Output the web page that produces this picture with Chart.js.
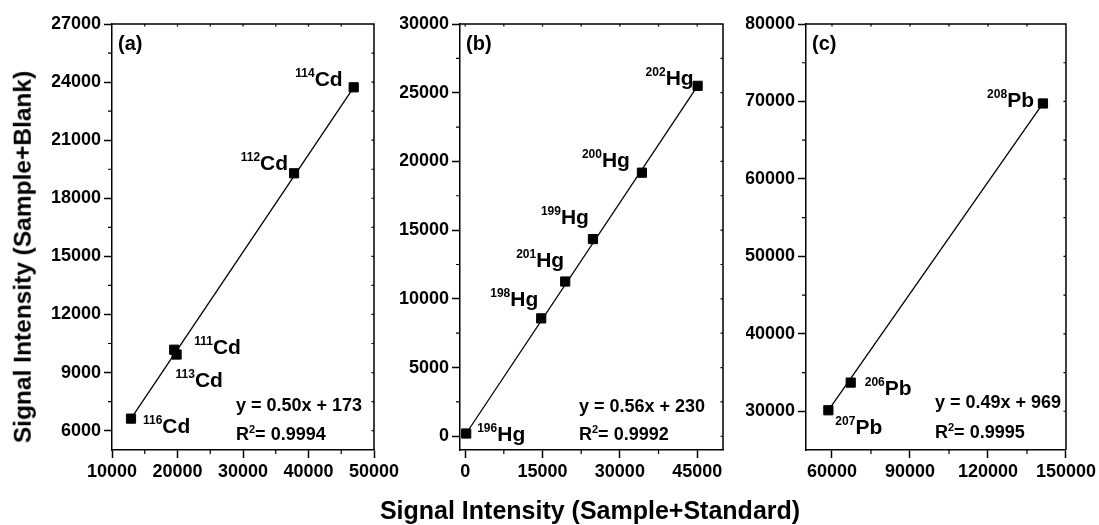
<!DOCTYPE html>
<html>
<head>
<meta charset="utf-8">
<script src="https://cdn.jsdelivr.net/npm/chart.js@4.4.1/dist/chart.umd.min.js"></script>
<style>
  html, body { margin: 0; padding: 0; background: #fff; width: 1099px; height: 525px; overflow: hidden; }
  canvas { position: absolute; left: 0; top: 0; }
  .title { position: absolute; font-family: "Liberation Sans", Arial, sans-serif; font-weight: bold; color: #000;
           white-space: nowrap; line-height: 1; transform-origin: center center; }
  #xTitle { left: 590px; top: 510px; font-size: 25px; transform: translate(-50%, -50%); }
  #yTitle { left: 23px; top: 257px; font-size: 24.5px; transform: translate(-50%, -50%) rotate(-90deg); }
</style>
</head>
<body>
<canvas id="panelA" width="1099" height="525"></canvas>
<canvas id="panelB" width="1099" height="525"></canvas>
<canvas id="panelC" width="1099" height="525"></canvas>
<div class="title" id="xTitle">Signal Intensity (Sample+Standard)</div>
<div class="title" id="yTitle">Signal Intensity (Sample+Blank)</div>
<script>
// ---- Cadmium isotopes ----
const cdMass  = ['116', '111', '113', '112', '114'];
const cdStd   = [12900, 19500, 19860, 37800, 46900];
const cdBlank = [6620, 10180, 9930, 19290, 23730];
const cdXTicks = [10000, 20000, 30000, 40000, 50000];
const cdYTicks = [6000, 9000, 12000, 15000, 18000, 21000, 24000, 27000];

// ---- Mercury isotopes ----
const hgMass  = ['196', '198', '201', '199', '200', '202'];
const hgStd   = [200, 14750, 19400, 24780, 34280, 45080];
const hgBlank = [200, 8580, 11260, 14350, 19180, 25500];
const hgXTicks = [0, 15000, 30000, 45000];
const hgYTicks = [0, 5000, 10000, 15000, 20000, 25000, 30000];

// ---- Lead isotopes ----
const pbMass  = ['207', '206', '208'];
const pbStd   = [58600, 67200, 141150];
const pbBlank = [30130, 33700, 69740];
const pbXTicks = [60000, 90000, 120000, 150000];
const pbYTicks = [30000, 40000, 50000, 60000, 70000, 80000];

// ---- Regression results ----
const fitEquations = ['y = 0.50x + 173', 'y = 0.56x + 230', 'y = 0.49x + 969'];
const fitR2 = ['0.9994', '0.9992', '0.9995'];
const panelLetters = ['(a)', '(b)', '(c)'];

const FONT = '"Liberation Sans", Arial, sans-serif';
const W = 1099, H = 525, PLOT_TOP = 24, PLOT_BOTTOM = 450, Y_AXIS_W = 60, X_AXIS_H = 45;

// Isotope label placement: [dx, dy, anchor] relative to the marker centre
const cdLabelPos = [[12, 14, 'left'], [20, 4, 'left'], [-1, 32, 'left'], [-6, -3, 'right'], [-11, -1, 'right']];
const hgLabelPos = [[11, 7, 'left'], [-3, -12, 'right'], [-1, -15, 'right'], [-4, -15, 'right'], [-12, -6, 'right'], [-4, -1, 'right']];
const pbLabelPos = [[7, 24, 'left'], [14, 12, 'left'], [-9, 4, 'right']];

function minorTicks(major, min, max) {
  const step = major[1] - major[0];
  const out = [];
  const first = major[0] - step / 2;
  if (first > min) out.push(first);
  major.forEach(v => { const m = v + step / 2; if (m < max) out.push(m); });
  return out;
}

// Frame, minor ticks, isotope labels, fit text and panel letter
const decorations = {
  id: 'decorations',
  afterDatasetsDraw(chart, args, o) {
    const ctx = chart.ctx, a = chart.chartArea, xs = chart.scales.x, ys = chart.scales.y;
    ctx.save();
    ctx.strokeStyle = '#000';
    ctx.lineWidth = 1.5;
    // top and right frame
    ctx.beginPath();
    ctx.moveTo(a.left, a.top); ctx.lineTo(a.right, a.top); ctx.lineTo(a.right, a.bottom);
    ctx.stroke();
    ctx.lineWidth = 1.2;
    const xMinor = minorTicks(o.xTicks, xs.min, xs.max);
    const yMinor = minorTicks(o.yTicks, ys.min, ys.max);
    ctx.beginPath();
    xMinor.forEach(v => { const p = xs.getPixelForValue(v); ctx.moveTo(p, a.bottom); ctx.lineTo(p, a.bottom + 4); });
    yMinor.forEach(v => { const p = ys.getPixelForValue(v); ctx.moveTo(a.left, p); ctx.lineTo(a.left - 4, p); });
    o.xTicks.concat(xMinor).forEach(v => { const p = xs.getPixelForValue(v); if (p > a.left + 1 && p < a.right - 1) { ctx.moveTo(p, a.top); ctx.lineTo(p, a.top + 2.5); } });
    o.yTicks.concat(yMinor).forEach(v => { const p = ys.getPixelForValue(v); if (p > a.top + 1 && p < a.bottom - 1) { ctx.moveTo(a.right, p); ctx.lineTo(a.right - 2.5, p); } });
    ctx.stroke();

    ctx.fillStyle = '#000';
    ctx.textBaseline = 'alphabetic';
    ctx.textAlign = 'left';
    // isotope labels
    const supFont = 'bold 12px ' + FONT, elFont = 'bold 21px ' + FONT;
    o.mass.forEach((m, i) => {
      const px = xs.getPixelForValue(o.xs[i]), py = ys.getPixelForValue(o.ys[i]);
      const [dx, dy, anchor] = o.labelPos[i];
      ctx.font = supFont; const sw = ctx.measureText(m).width;
      ctx.font = elFont; const ew = ctx.measureText(o.element).width;
      const x0 = anchor === 'left' ? px + dx : px + dx - sw - ew;
      const base = py + dy;
      ctx.font = supFont; ctx.fillText(m, x0, base - 9);
      ctx.font = elFont; ctx.fillText(o.element, x0 + sw, base);
    });
    // fit equation and R^2
    const eqX = a.left + o.eqDx;
    ctx.font = 'bold 18px ' + FONT;
    ctx.fillText(o.eq, eqX, a.bottom + o.eqDy[0]);
    ctx.fillText('R', eqX, a.bottom + o.eqDy[1]);
    const rw = ctx.measureText('R').width;
    ctx.font = 'bold 11px ' + FONT;
    ctx.fillText('2', eqX + rw, a.bottom + o.eqDy[1] - 7);
    const tw = ctx.measureText('2').width;
    ctx.font = 'bold 18px ' + FONT;
    ctx.fillText('= ' + o.r2, eqX + rw + tw, a.bottom + o.eqDy[1]);
    // panel letter
    ctx.font = 'bold 20px ' + FONT;
    ctx.fillText(o.letter, a.left + 6, 50);
    ctx.restore();
  }
};

function axis(min, max, ticks, isX) {
  return {
    type: 'linear',
    position: isX ? 'bottom' : 'left',
    min: min, max: max,
    afterBuildTicks: s => { s.ticks = ticks.map(v => ({ value: v })); },
    afterFit: s => { if (isX) s.height = X_AXIS_H; else s.width = Y_AXIS_W; },
    ticks: { color: '#000', padding: 3, font: { family: FONT, size: 18, weight: 'bold' }, callback: v => String(v) },
    grid: { drawOnChartArea: false, drawTicks: true, tickLength: 8, tickWidth: 1.5, tickColor: '#000' },
    border: { display: true, color: '#000', width: 1.5 }
  };
}

function makePanel(id, p) {
  const pts = p.xs.map((x, i) => ({ x: x, y: p.ys[i] }));
  let lo = 0, hi = 0;
  p.xs.forEach((x, i) => { if (x < p.xs[lo]) lo = i; if (x > p.xs[hi]) hi = i; });
  new Chart(document.getElementById(id), {
    type: 'scatter',
    data: {
      datasets: [
        { data: pts, pointStyle: 'rect', pointRadius: 6.5, backgroundColor: '#000', borderColor: '#000', borderWidth: 1, showLine: false },
        { data: [pts[lo], pts[hi]], showLine: true, borderColor: '#000', borderWidth: 1.3, pointRadius: 0, fill: false }
      ]
    },
    options: {
      responsive: false,
      animation: false,
      events: [],
      layout: { padding: { left: p.left - Y_AXIS_W, right: W - p.right, top: PLOT_TOP, bottom: H - PLOT_BOTTOM - X_AXIS_H } },
      plugins: {
        legend: { display: false },
        tooltip: { enabled: false },
        decorations: {
          xTicks: p.xTicks, yTicks: p.yTicks, mass: p.mass, element: p.element, xs: p.xs, ys: p.ys,
          labelPos: p.labelPos, eq: p.eq, r2: p.r2, eqDx: p.eqDx, eqDy: p.eqDy, letter: p.letter
        }
      },
      scales: {
        x: axis(p.xMin, p.xMax, p.xTicks, true),
        y: axis(p.yMin, p.yMax, p.yTicks, false)
      }
    },
    plugins: [decorations]
  });
}

makePanel('panelA', {
  left: 112, right: 374, xMin: 10000, xMax: 50000, yMin: 5000, yMax: 27000,
  xTicks: cdXTicks, yTicks: cdYTicks, mass: cdMass, element: 'Cd', xs: cdStd, ys: cdBlank,
  labelPos: cdLabelPos, eq: fitEquations[0], r2: fitR2[0], eqDx: 124, eqDy: [-39, -10], letter: panelLetters[0]
});
makePanel('panelB', {
  left: 460, right: 723, xMin: -1000, xMax: 50000, yMin: -1000, yMax: 30000,
  xTicks: hgXTicks, yTicks: hgYTicks, mass: hgMass, element: 'Hg', xs: hgStd, ys: hgBlank,
  labelPos: hgLabelPos, eq: fitEquations[1], r2: fitR2[1], eqDx: 119, eqDy: [-38, -10], letter: panelLetters[1]
});
makePanel('panelC', {
  left: 806, right: 1068, xMin: 50000, xMax: 150000, yMin: 25000, yMax: 80000,
  xTicks: pbXTicks, yTicks: pbYTicks, mass: pbMass, element: 'Pb', xs: pbStd, ys: pbBlank,
  labelPos: pbLabelPos, eq: fitEquations[2], r2: fitR2[2], eqDx: 129, eqDy: [-42, -12], letter: panelLetters[2]
});
</script>
</body>
</html>
